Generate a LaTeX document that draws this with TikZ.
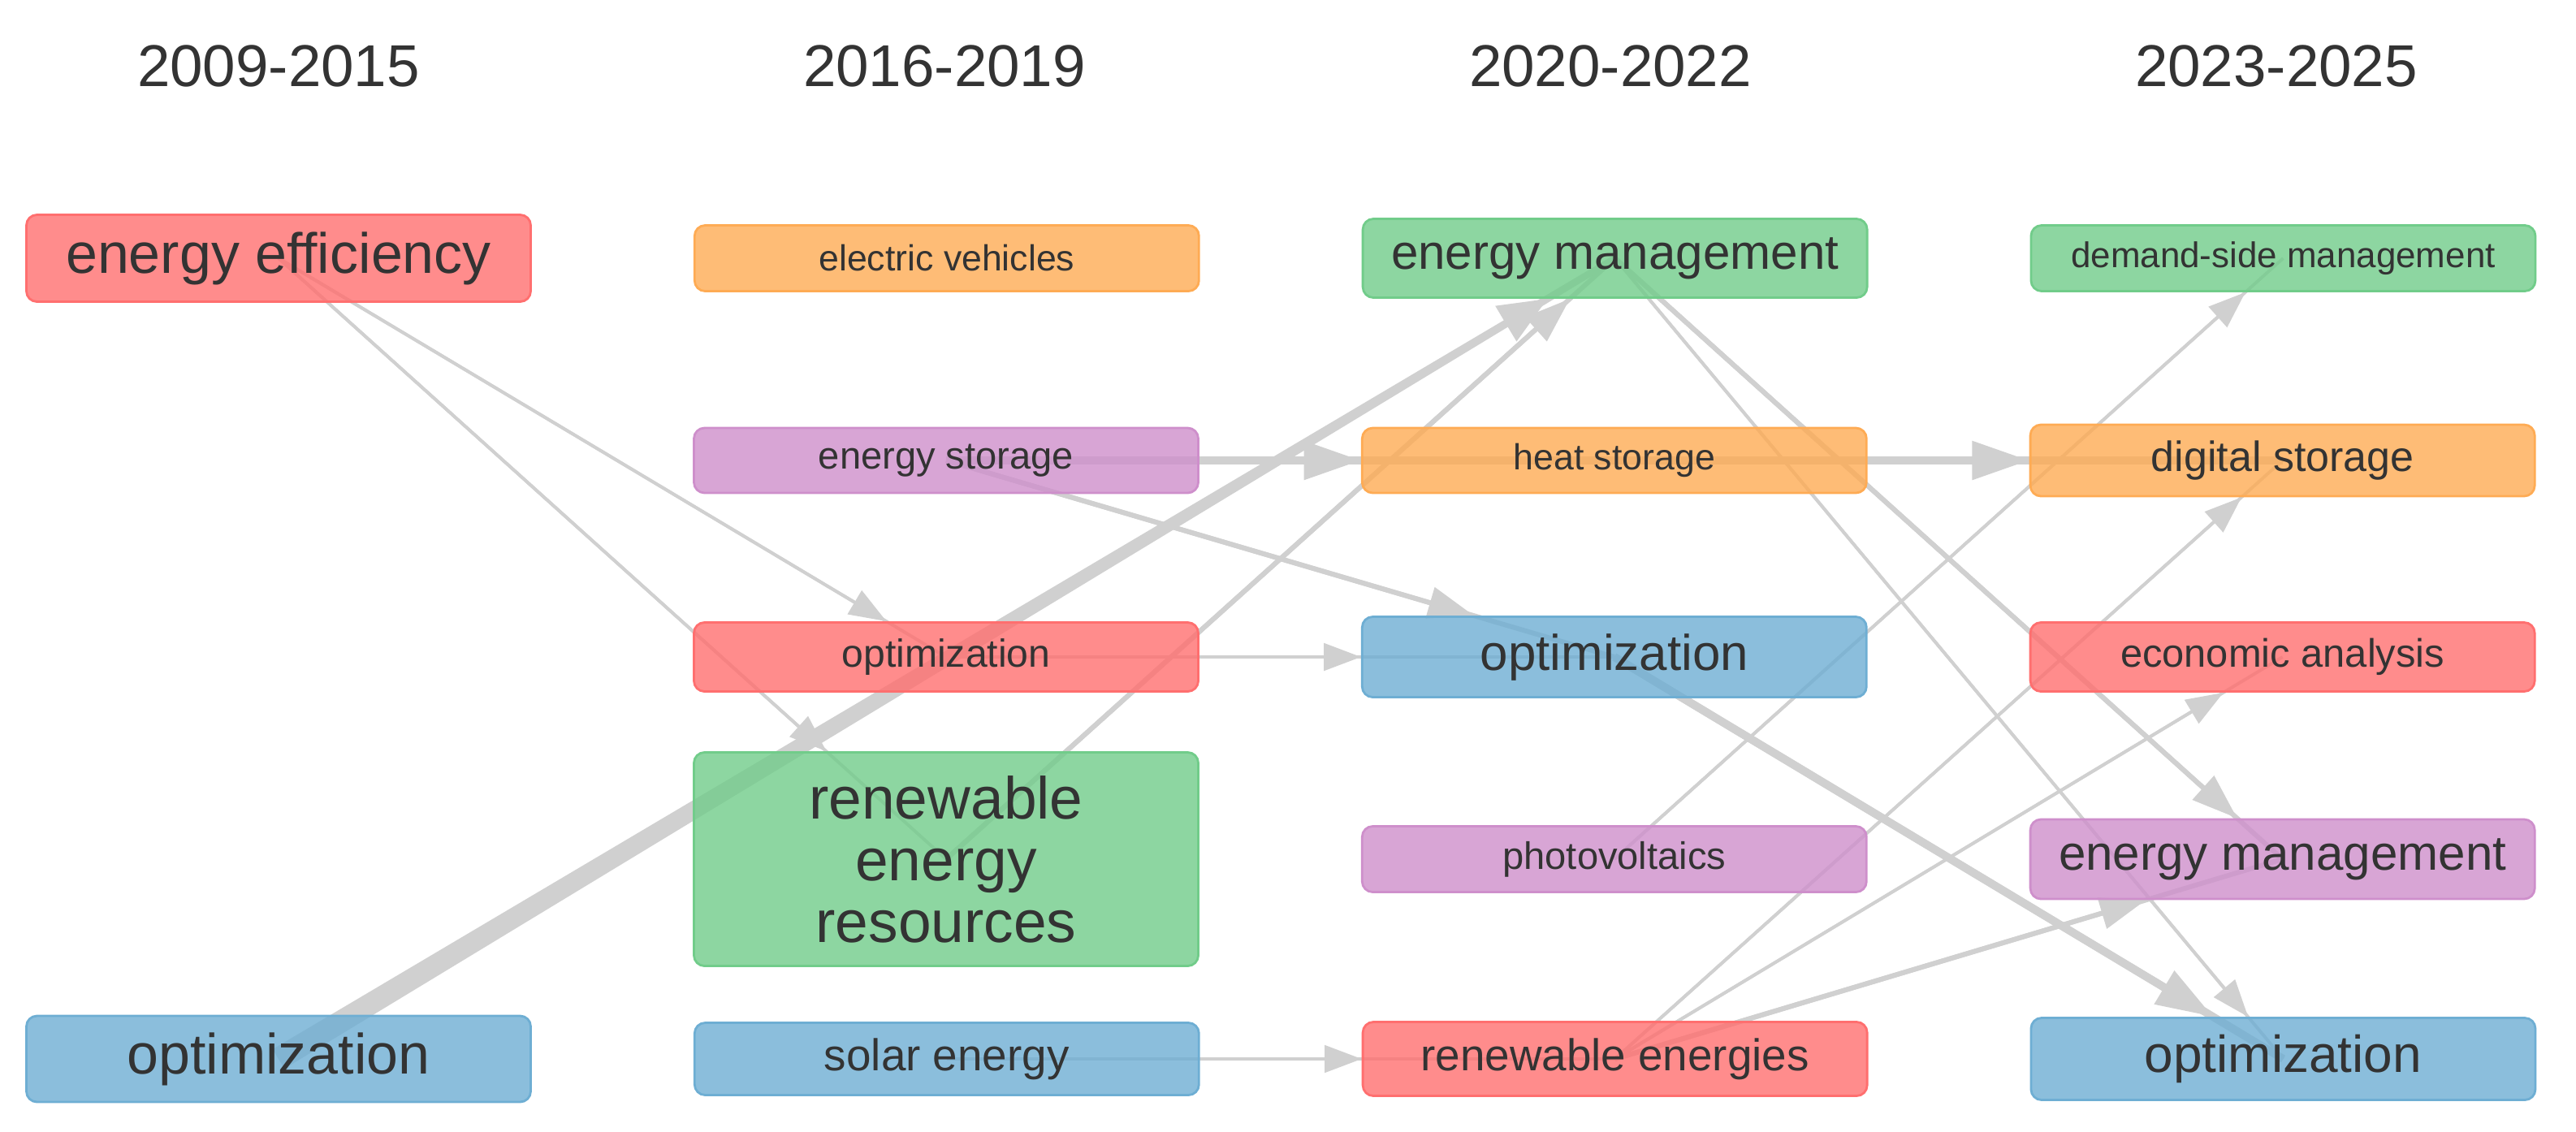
\documentclass[tikz,border=0pt]{standalone}
\usepackage{fontspec}
\setmainfont{Liberation Sans}
\usepackage{tikz}
\usetikzlibrary{arrows.meta,positioning,calc}
\definecolor{kwred}{RGB}{255,111,111}
\definecolor{kworange}{RGB}{254,171,84}
\definecolor{kwgreen}{RGB}{113,204,138}
\definecolor{kwblue}{RGB}{110,174,211}
\definecolor{kwpurple}{RGB}{206,143,203}
\definecolor{linkgray}{RGB}{208,208,208}
\definecolor{txtgray}{RGB}{51,51,51}
\pgfdeclarelayer{bg}
\pgfsetlayers{bg,main}
\tikzset{
  kw/.style={rectangle,rounded corners=1.3mm,minimum width=6.21cm,inner sep=0pt,
    line width=0.8pt,fill opacity=0.8,text opacity=1,text=txtgray},
  redkw/.style={kw,fill=kwred,draw=kwred},
  orangekw/.style={kw,fill=kworange,draw=kworange},
  greenkw/.style={kw,fill=kwgreen,draw=kwgreen},
  bluekw/.style={kw,fill=kwblue,draw=kwblue},
  purplekw/.style={kw,fill=kwpurple,draw=kwpurple},
  fs/.style={font=\fontsize{#1}{#1}\selectfont},
  period/.style={font=\fontsize{20.7}{24}\selectfont,text=txtgray,anchor=base},
  thinlink/.style={draw=linkgray,line width=1.1pt,>={Triangle[length=13pt,width=9.5pt]}},
  midlink/.style={draw=linkgray,line width=1.7pt,>={Triangle[length=16pt,width=11pt]}},
  thicklink/.style={draw=linkgray,line width=2.8pt,>={Triangle[length=20pt,width=13pt]}}
}
% link from centre to centre, tip on the border of the target
\newcommand{\flow}[3]{%
  \draw[#1] (#2.center) -- (#3.center);
  \draw[#1,->] (#2.center) -- (#3);}

\begin{document}
\begin{tikzpicture}
  \useasboundingbox (0,0) rectangle (31.72,-13.93);
  \foreach \yr [count=\i] in {2009-2015,2016-2019,2020-2022,2023-2025}
    \node[period] (p\i) at ({3.43+8.2*(\i-1)},-1.06) {\yr};

  % 2009-2015
  \node[redkw, fs=19.9, minimum height=1.07cm] (ee) at (3.43,-3.18) {energy efficiency};
  \node[bluekw, fs=19.9, minimum height=1.06cm] (opt1) at (3.43,-13.04) {optimization};
  % 2016-2019
  \node[orangekw, fs=12.7, minimum height=0.81cm, right=1.99cm of ee] (ev) {electric vehicles};
  \node[purplekw, fs=13.4, minimum height=0.80cm] (es) at (11.65,-5.67) {energy storage};
  \node[redkw, fs=13.7, minimum height=0.85cm] (opt2) at (11.65,-8.09) {optimization};
  \node[greenkw, font=\fontsize{20.8}{21.6}\selectfont, align=center, minimum height=2.63cm]
    (rer) at (11.65,-10.58) {renewable\\energy\\resources};
  \node[bluekw, fs=15.6, minimum height=0.89cm, right=1.99cm of opt1] (se) {solar energy};
  % 2020-2022
  \node[greenkw, fs=17.1, minimum height=0.97cm, right=1.99cm of ev] (em3) {energy management};
  \node[orangekw, fs=12.7, minimum height=0.80cm, right=1.99cm of es] (hs) {heat storage};
  \node[bluekw, fs=17.6, minimum height=0.99cm, right=1.99cm of opt2] (opt3) {optimization};
  \node[purplekw, fs=13.4, minimum height=0.81cm, right=1.99cm of rer] (pv) {photovoltaics};
  \node[redkw, fs=15.6, minimum height=0.91cm, right=1.99cm of se] (re) {renewable energies};
  % 2023-2025
  \node[greenkw, fs=12.5, minimum height=0.81cm, right=1.99cm of em3] (dsm) {demand-side management};
  \node[orangekw, fs=14.8, minimum height=0.88cm, right=1.99cm of hs] (ds) {digital storage};
  \node[redkw, fs=13.9, minimum height=0.85cm, right=1.99cm of opt3] (ea) {economic analysis};
  \node[purplekw, fs=17.1, minimum height=0.98cm, right=1.99cm of pv] (em4) {energy management};
  \node[bluekw, fs=18.2, minimum height=1.01cm, right=1.99cm of re] (opt4) {optimization};

  \begin{pgfonlayer}{bg}
    \flow{thinlink}{ee}{opt2}
    \flow{thinlink}{ee}{rer}
    % tapered main flow
    \fill[linkgray] ($(opt1.center)!1.4mm!90:(em3.center)$) -- ($(em3.center)!0.4mm!-90:(opt1.center)$)
      -- ($(em3.center)!0.4mm!90:(opt1.center)$) -- ($(opt1.center)!1.4mm!-90:(em3.center)$) -- cycle;
    \draw[linkgray, line width=2pt, -{Triangle[length=17pt,width=14pt]}] (opt1.center) -- (em3);
    \flow{thicklink}{es}{hs}
    \flow{midlink}{es}{opt3}
    \flow{thinlink}{opt2}{opt3}
    \flow{midlink}{rer}{em3}
    \flow{thinlink}{se}{re}
    \flow{midlink}{em3}{em4}
    \flow{thinlink}{em3}{opt4}
    \flow{thicklink}{hs}{ds}
    \flow{thicklink}{opt3}{opt4}
    \flow{thinlink}{pv}{dsm}
    \flow{thinlink}{re}{ds}
    \flow{thinlink}{re}{ea}
    \flow{midlink}{re}{em4}
  \end{pgfonlayer}
\end{tikzpicture}
\end{document}
